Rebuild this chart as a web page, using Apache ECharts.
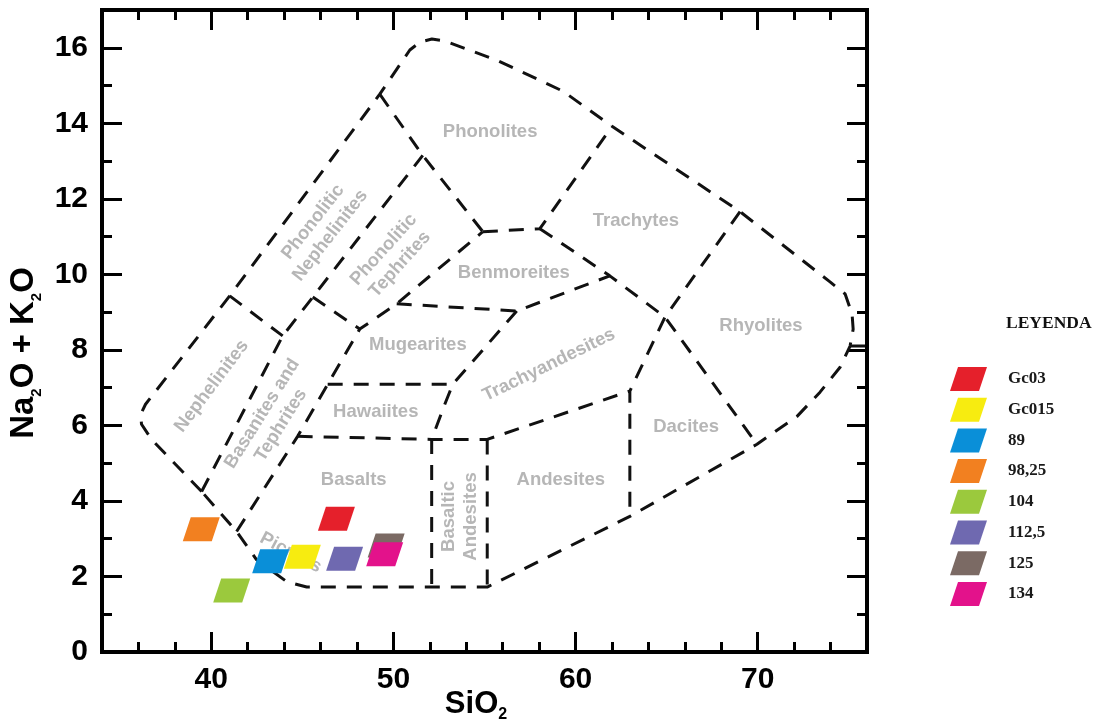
<!DOCTYPE html>
<html>
<head>
<meta charset="utf-8">
<title>TAS</title>
<script src="https://cdn.jsdelivr.net/npm/echarts@6/dist/echarts.min.js"></script>
<style>
  body { margin: 0; padding: 0; background: #fff; }
  #myChart { width: 1100px; height: 723px; }
</style>
</head>
<body>
<div id="myChart"></div>
<script>
  // muestras (SiO2, Na2O + K2O)
  let sampleNames = ['Gc03', 'Gc015', '89', '98,25', '104', '112,5', '125', '134'];
  let sampleSiO2 = [46.87, 45.0, 43.26, 39.45, 41.12, 47.32, 49.6, 49.52];
  let sampleAlk = [3.53, 2.52, 2.4, 3.25, 1.63, 2.47, 2.82, 2.59];
  let sampleColors = ['#e5202b', '#f7ec10', '#0a8fd8', '#f28020', '#9bc93d', '#6f69b0', '#7b6a64', '#e3128b'];

  // etiquetas de los ejes
  let xLabels = [40, 50, 60, 70];
  let yLabels = [0, 2, 4, 6, 8, 10, 12, 14, 16];

  // limites del diagrama TAS
  let outerLine = [[39.47, 4.25], [36.72, 5.63], [36.17, 6.03], [36.12, 6.29], [36.39, 6.56], [41.01, 9.43],
    [49.25, 14.77], [50.9, 15.94], [51.45, 16.15], [52.11, 16.23], [52.82, 16.18], [55.68, 15.67],
    [59.31, 14.85], [62.0, 13.92], [69.03, 11.66], [73.97, 9.8], [74.8, 9.48], [75.18, 8.95],
    [75.24, 8.55], [75.07, 8.1], [74.52, 7.54], [73.42, 6.88], [72.16, 6.24], [70.57, 5.71],
    [69.96, 5.5], [62.98, 3.59], [55.15, 1.72], [45.24, 1.72], [44.15, 1.86], [42.49, 2.44],
    [41.39, 3.19], [39.47, 4.25]];
  let rightStub = [[75.07, 8.1], [76, 8.1]];
  let nephTop = [[41.01, 9.43], [43.92, 8.37]];
  let basaniteLeft = [[39.47, 4.25], [43.92, 8.37], [51.61, 13.15]];
  let phonoliteLeft = [[49.25, 14.77], [51.61, 13.15], [54.91, 11.13]];
  let tephriteRight = [[41.39, 3.19], [44.74, 5.71], [46.39, 7.09], [48.15, 8.55]];
  let tephriteTop = [[45.57, 9.40], [48.15, 8.55], [50.18, 9.22], [54.91, 11.13]];
  let phonoliteBottom = [[54.91, 11.13], [58.04, 11.21], [62.0, 13.92]];
  let trachyteBottom = [[58.04, 11.21], [61.88, 9.96], [64.91, 8.87], [69.96, 5.5]];
  let rhyoliteLeft = [[69.03, 11.66], [64.91, 8.87], [62.98, 6.91], [62.98, 3.59]];
  let benmoreiteBottom = [[50.18, 9.22], [56.77, 9.03], [61.88, 9.96]];
  let mugeariteRight = [[56.77, 9.03], [53.26, 7.09], [52.82, 6.56], [52.1, 5.63], [52.1, 1.72]];
  let mugeariteBottom = [[46.39, 7.09], [53.26, 7.09]];
  let basaltTop = [[44.74, 5.71], [52.1, 5.63], [55.15, 5.63], [62.98, 6.91]];
  let andesiteLeft = [[55.15, 5.63], [55.15, 1.72]];

  // nombres de los campos
  let fieldNames = ['Phonolites', 'Trachytes', 'Benmoreites', 'Mugearites', 'Hawaiites', 'Basalts', 'Andesites',
    'Dacites', 'Rhyolites', 'Trachyandesites', 'Basaltic\nAndesites', 'Nephelinites', 'Phonolitic\nNephelinites',
    'Phonolitic\nTephrites', 'Basanites and\nTephrites', 'Picrites'];
  let fieldX = [55.31, 63.31, 56.61, 51.34, 49.03, 47.82, 59.19, 66.07, 70.18, 58.54, 53.65, 40.02, 46.06, 49.91, 43.31, 44.36];
  let fieldY = [13.78, 11.42, 10.04, 8.13, 6.35, 4.57, 4.57, 5.95, 8.63, 7.6, 3.59, 7.04, 11.21, 10.46, 6.16, 2.63];
  let fieldRot = [0, 0, 0, 0, 0, 0, 0, 0, 0, 26, 90, 53, 52, 48, 58, -28];

  let shape = 'path://M8,0 L37,0 L29,24 L0,24 Z';
  let font = 'Liberation Sans';

  let boundaries = [outerLine, rightStub, nephTop, basaniteLeft, phonoliteLeft, tephriteRight, tephriteTop,
    phonoliteBottom, trachyteBottom, rhyoliteLeft, benmoreiteBottom, mugeariteRight, mugeariteBottom,
    basaltTop, andesiteLeft];

  let series = [];
  boundaries.forEach(function (pts, i) {
    series.push({
      name: 'limite' + i,
      type: 'line',
      data: pts,
      symbol: 'none',
      silent: true,
      z: 2,
      lineStyle: {color: '#111', width: 3, type: [15, 11]}
    });
  });

  series.push({
    name: 'campos',
    type: 'scatter',
    silent: true,
    symbolSize: 1,
    z: 1,
    itemStyle: {color: 'transparent'},
    label: {
      show: true,
      position: 'inside',
      color: '#a4a4a4',
      fontFamily: font,
      fontWeight: 'bold',
      fontSize: 18.5,
      lineHeight: 22,
      formatter: function (p) { return p.name; }
    },
    data: fieldNames.map(function (n, i) {
      return {name: n, value: [fieldX[i], fieldY[i]], label: {rotate: fieldRot[i]}};
    })
  });

  sampleNames.forEach(function (n, i) {
    series.push({
      name: n,
      type: 'scatter',
      symbol: shape,
      symbolSize: [37, 24],
      z: 3,
      itemStyle: {color: sampleColors[i], opacity: 1},
      data: [[sampleSiO2[i], sampleAlk[i]]]
    });
  });

  let tickLine = {width: 3, color: '#000'};
  let labelFont = {color: '#000', fontFamily: font, fontWeight: 'bold', fontSize: 30};

  function xAx(pos, major) {
    return {
      type: 'value', min: 34, max: 76, interval: 2, position: pos,
      axisLine: {show: false, onZero: false}, splitLine: {show: false},
      axisTick: major ? {inside: true, length: 20, customValues: xLabels, lineStyle: tickLine}
                      : {inside: true, length: 10, lineStyle: tickLine},
      axisLabel: {show: false}
    };
  }
  function yAx(pos, major) {
    return {
      type: 'value', min: 0, max: 17, interval: 1, position: pos,
      axisLine: {show: false, onZero: false}, splitLine: {show: false},
      axisTick: major ? {inside: true, length: 20, customValues: yLabels, lineStyle: tickLine}
                      : {inside: true, length: 10, lineStyle: tickLine},
      axisLabel: {show: false}
    };
  }

  let xMain = xAx('bottom', false);
  xMain.axisLabel = Object.assign({show: true, customValues: xLabels, margin: 13}, labelFont);
  xMain.name = 'SiO{s|2}';
  xMain.nameLocation = 'middle';
  xMain.nameGap = 33;
  xMain.nameMoveOverlap = false;
  xMain.nameTextStyle = {
    color: '#000', fontFamily: font, fontWeight: 'bold', fontSize: 31, lineHeight: 38,
    padding: [0, 17, 0, 0],
    rich: {s: {color: '#000', fontFamily: font, fontWeight: 'bold', fontSize: 16, lineHeight: 16, verticalAlign: 'bottom'}}
  };

  let yMain = yAx('left', false);
  yMain.axisLabel = Object.assign({show: true, customValues: yLabels, margin: 14}, labelFont);
  yMain.name = 'Na{s|2}O + K{s|2}O';
  yMain.nameLocation = 'middle';
  yMain.nameGap = 58;
  yMain.nameMoveOverlap = false;
  yMain.nameTextStyle = {
    color: '#000', fontFamily: font, fontWeight: 'bold', fontSize: 33, lineHeight: 40,
    padding: [0, 44, 0, 0],
    rich: {s: {color: '#000', fontFamily: font, fontWeight: 'bold', fontSize: 15, lineHeight: 15, verticalAlign: 'bottom'}}
  };

  let myChart = echarts.init(document.getElementById('myChart'));
  let option = {
    backgroundColor: '#fff',
    animation: false,
    title: {
      text: 'LEYENDA',
      left: 1006,
      top: 314,
      padding: 0,
      textStyle: {fontFamily: 'Liberation Serif', fontWeight: 'bold', fontSize: 17.5, color: '#111'}
    },
    legend: {
      data: sampleNames,
      orient: 'vertical',
      left: 945,
      top: 362,
      itemWidth: 37,
      itemHeight: 24,
      itemGap: 6.7,
      icon: shape,
      selectedMode: false,
      textStyle: {fontFamily: 'Liberation Serif', fontWeight: 'bold', fontSize: 17, color: '#1a1a1a', padding: [0, 0, 0, 16]}
    },
    grid: {
      left: 102, right: 233, top: 10, bottom: 71,
      show: true, borderColor: '#000', borderWidth: 4, backgroundColor: 'transparent',
      outerBoundsMode: 'none'
    },
    xAxis: [xMain, xAx('bottom', true), xAx('top', false), xAx('top', true)],
    yAxis: [yMain, yAx('left', true), yAx('right', false), yAx('right', true)],
    series: series
  };
  myChart.setOption(option);
</script>
</body>
</html>
